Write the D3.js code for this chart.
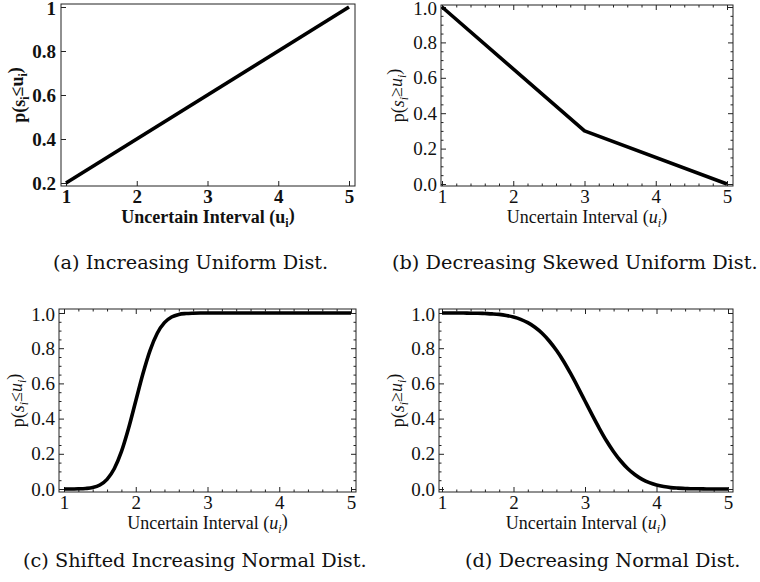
<!DOCTYPE html>
<html>
<head>
<meta charset="utf-8">
<script src="https://cdn.jsdelivr.net/npm/d3@7"></script>
<style>
  body { margin: 0; background: #fff; }
  text { fill: #111; }
</style>
</head>
<body>
<script>
var width = 760,
    height = 582;

var axisFont = '"Liberation Serif", Tinos, "Times New Roman", Times, "DejaVu Serif", serif';
var capFont = '"DejaVu Serif", "Liberation Serif", serif';

// values
var uA = [1, 5];
var pA = [0.2, 1];

var uB = [1, 3, 5];
var pB = [1, 0.3, 0];

var uGrid = [1.0, 1.1, 1.2, 1.3, 1.4, 1.5, 1.6, 1.7, 1.8, 1.9,
             2.0, 2.1, 2.2, 2.3, 2.4, 2.5, 2.6, 2.7, 2.8, 2.9,
             3.0, 3.1, 3.2, 3.3, 3.4, 3.5, 3.6, 3.7, 3.8, 3.9,
             4.0, 4.1, 4.2, 4.3, 4.4, 4.5, 4.6, 4.7, 4.8, 4.9, 5.0];

var pC = [0, 0, 0.001, 0.003, 0.008, 0.023, 0.055, 0.115, 0.212, 0.345,
          0.5, 0.655, 0.788, 0.885, 0.945, 0.977, 0.992, 0.997, 0.999, 1,
          1, 1, 1, 1, 1, 1, 1, 1, 1, 1,
          1, 1, 1, 1, 1, 1, 1, 1, 1, 1, 1];

var pD = [1, 1, 1, 1, 0.999, 0.999, 0.997, 0.995, 0.992, 0.986,
          0.977, 0.964, 0.945, 0.919, 0.885, 0.841, 0.788, 0.726, 0.655, 0.579,
          0.5, 0.421, 0.345, 0.274, 0.212, 0.159, 0.115, 0.081, 0.055, 0.036,
          0.023, 0.014, 0.008, 0.005, 0.003, 0.001, 0.001, 0, 0, 0, 0];

var xTicks = [1, 2, 3, 4, 5];
var yTicksA = [0.2, 0.4, 0.6, 0.8, 1];
var yLabelsA = ["0.2", "0.4", "0.6", "0.8", "1"];
var yTicks = [0, 0.2, 0.4, 0.6, 0.8, 1];
var yLabels = ["0.0", "0.2", "0.4", "0.6", "0.8", "1.0"];

var captions = ["(a) Increasing Uniform Dist.",
                "(b) Decreasing Skewed Uniform Dist.",
                "(c) Shifted Increasing Normal Dist.",
                "(d) Decreasing Normal Dist."];

var xMinor = d3.range(1, 5.001, 0.2).filter(function (v) { return Math.abs(v - Math.round(v)) > 1e-6; });
var yMinor = d3.range(0, 1.001, 0.05).filter(function (v) { return Math.abs(v * 5 - Math.round(v * 5)) > 1e-6; });

var panels = [
    { u: uA, p: pA, frame: [61, 4, 355, 186], xr: [66, 349], yd: [0.2, 1], yr: [183, 7],
      yt: yTicksA, yl: yLabelsA, bold: true, minor: false, rel: "\u2264", labX: 25,
      cap: captions[0], capX: 53, capY: 269 },
    { u: uB, p: pB, frame: [441, 5, 733, 186], xr: [442, 727], yd: [0, 1], yr: [184, 7],
      yt: yTicks, yl: yLabels, bold: false, minor: true, rel: "\u2265", labX: 404,
      cap: captions[1], capX: 392, capY: 269 },
    { u: uGrid, p: pC, frame: [59, 309, 356, 492], xr: [64, 351], yd: [0, 1], yr: [489, 313],
      yt: yTicks, yl: yLabels, bold: false, minor: true, rel: "\u2264", labX: 24,
      cap: captions[2], capX: 23, capY: 567, smooth: true },
    { u: uGrid, p: pD, frame: [439, 309, 733, 492], xr: [442, 728], yd: [0, 1], yr: [489, 313],
      yt: yTicks, yl: yLabels, bold: false, minor: true, rel: "\u2265", labX: 404,
      cap: captions[3], capX: 465, capY: 567, smooth: true }
];

var svg = d3.select("body").append("svg")
    .attr("width", width)
    .attr("height", height);

svg.append("rect").attr("width", width).attr("height", height).attr("fill", "#fff");

panels.forEach(function (cfg) {
    var f = cfg.frame;
    var x = d3.scaleLinear().domain([1, 5]).range(cfg.xr);
    var y = d3.scaleLinear().domain(cfg.yd).range(cfg.yr);
    var g = svg.append("g").attr("font-family", axisFont);
    var weight = cfg.bold ? "bold" : "normal";

    // major ticks, bottom + left with labels
    var bottom = g.append("g")
        .attr("transform", "translate(0," + f[3] + ")")
        .call(d3.axisBottom(x).tickValues(xTicks).tickSize(-5).tickPadding(4)
            .tickFormat(d3.format("d")));
    var left = g.append("g")
        .attr("transform", "translate(" + f[0] + ",0)")
        .call(d3.axisLeft(y).tickValues(cfg.yt).tickSize(-5).tickPadding(cfg.bold ? 5 : 4)
            .tickFormat(function (d, i) { return cfg.yl[i]; }));

    [bottom, left].forEach(function (ax) {
        ax.attr("font-family", axisFont).attr("font-size", 19);
        ax.select(".domain").remove();
        ax.selectAll("line").attr("stroke", "#222");
        ax.selectAll("text")
            .attr("font-weight", weight)
            .attr("fill", "#111");
    });
    // keep the top label inside the picture
    left.selectAll(".tick text").filter(function (d) { return d === 1; }).attr("dy", "0.4em");

    if (cfg.minor) {
        // mirrored majors on top and right
        var top = g.append("g").attr("transform", "translate(0," + f[1] + ")")
            .call(d3.axisTop(x).tickValues(xTicks).tickSize(-5).tickFormat(""));
        var right = g.append("g").attr("transform", "translate(" + f[2] + ",0)")
            .call(d3.axisRight(y).tickValues(cfg.yt).tickSize(-5).tickFormat(""));
        // minor ticks on all four sides
        var mb = g.append("g").attr("transform", "translate(0," + f[3] + ")")
            .call(d3.axisBottom(x).tickValues(xMinor).tickSize(-2.5).tickFormat(""));
        var mt = g.append("g").attr("transform", "translate(0," + f[1] + ")")
            .call(d3.axisTop(x).tickValues(xMinor).tickSize(-2.5).tickFormat(""));
        var ml = g.append("g").attr("transform", "translate(" + f[0] + ",0)")
            .call(d3.axisLeft(y).tickValues(yMinor).tickSize(-2.5).tickFormat(""));
        var mr = g.append("g").attr("transform", "translate(" + f[2] + ",0)")
            .call(d3.axisRight(y).tickValues(yMinor).tickSize(-2.5).tickFormat(""));
        [top, right, mb, mt, ml, mr].forEach(function (ax) {
            ax.select(".domain").remove();
            ax.selectAll("line").attr("stroke", "#222");
        });
    }

    // frame
    g.append("rect")
        .attr("x", f[0]).attr("y", f[1])
        .attr("width", f[2] - f[0]).attr("height", f[3] - f[1])
        .attr("fill", "none")
        .attr("stroke", "#222")
        .attr("stroke-width", 1);

    // the curve
    var pts = cfg.u.map(function (d, i) { return [d, cfg.p[i]]; });
    var line = d3.line()
        .x(function (d) { return x(d[0]); })
        .y(function (d) { return y(d[1]); })
        .curve(cfg.smooth ? d3.curveMonotoneX : d3.curveLinear);
    g.append("path")
        .datum(pts)
        .attr("d", line)
        .attr("fill", "none")
        .attr("stroke", "#000")
        .attr("stroke-width", 3.6)
        .attr("stroke-linejoin", "round");

    // x axis title
    var st = cfg.bold ? "normal" : "italic";
    var xt = g.append("text")
        .attr("x", (f[0] + f[2]) / 2)
        .attr("y", f[3] + 37)
        .attr("text-anchor", "middle")
        .attr("font-size", 18)
        .attr("font-weight", weight)
        .text("Uncertain Interval (");
    xt.append("tspan").attr("font-style", st).text("u");
    xt.append("tspan").attr("dy", "0.3em").attr("font-size", 12).attr("font-style", st).text("i");
    xt.append("tspan").attr("dy", "-0.3em").text(")");

    // y axis title, rotated
    var cy = (f[1] + f[3]) / 2;
    var yt = g.append("text")
        .attr("transform", "translate(" + cfg.labX + "," + cy + ") rotate(-90)")
        .attr("text-anchor", "middle")
        .attr("font-size", 18)
        .attr("font-weight", weight);
    yt.append("tspan").text("p(");
    yt.append("tspan").attr("font-style", st).text("s");
    yt.append("tspan").attr("dy", "0.3em").attr("font-size", 12).attr("font-style", st).text("i");
    yt.append("tspan").attr("dy", "-0.3em").text(cfg.rel);
    yt.append("tspan").attr("font-style", st).text("u");
    yt.append("tspan").attr("dy", "0.3em").attr("font-size", 12).attr("font-style", st).text("i");
    yt.append("tspan").attr("dy", "-0.3em").text(")");

    // caption
    svg.append("text")
        .attr("x", cfg.capX)
        .attr("y", cfg.capY)
        .attr("font-family", capFont)
        .attr("font-size", 19.3)
        .attr("font-weight", 300)
        .text(cfg.cap);
});
</script>
</body>
</html>
